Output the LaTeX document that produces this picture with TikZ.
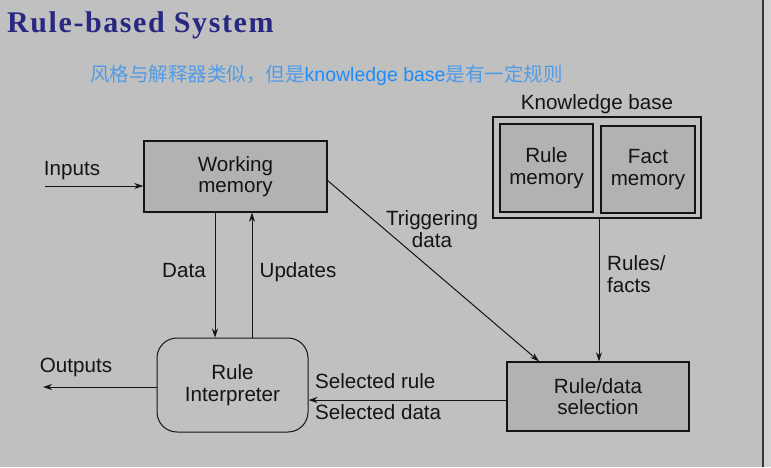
\documentclass[tikz,border=0pt]{standalone}
\usepackage{fontspec}
\setmainfont{Liberation Sans}
\newfontfamily\titlefont[LetterSpace=5.3]{Liberation Serif}
\newfontfamily\cjk{Noto Sans CJK SC}
\usetikzlibrary{arrows.meta}
\definecolor{bg}{RGB}{192,192,192}
\definecolor{bgr}{RGB}{210,210,210}
\definecolor{boxfill}{RGB}{178,178,178}
\definecolor{titlecol}{RGB}{40,40,130}
\definecolor{cjkblue}{RGB}{80,155,230}
\definecolor{latblue}{RGB}{30,140,250}
\definecolor{ink}{RGB}{20,20,20}
\tikzset{
  txt/.style={font=\fontsize{20.6}{21.5}\selectfont, text=ink, align=center, inner sep=0pt},
  box/.style={draw=ink, line width=1.4pt, fill=boxfill, inner sep=0pt, font=\fontsize{20.6}{21.5}\selectfont, text=ink, align=center},
  conn/.style={draw=ink, line width=1pt, -{Stealth[length=9pt,width=6pt]}},
}
\begin{document}
\begin{tikzpicture}[x=1pt,y=-1pt]
\useasboundingbox (0,0) rectangle (771,467);
\fill[bg] (0,0) rectangle (771,467);
\fill[bgr] (763,0) rectangle (771,467);
\draw[line width=1.8pt, ink!85] (763,0) -- (763,467);
% title
\node[anchor=base west, inner sep=0pt, text=titlecol, font=\titlefont\bfseries\fontsize{30}{32}\selectfont] (title) at (7,32) {Rule-based System};
\node[anchor=base west, inner sep=0pt, font=\fontsize{19.5}{22}\selectfont] (sub) at (90,81) {\cjk\color{cjkblue}风格与解释器类似，但是\color{latblue}\rmfamily knowledge base\cjk\color{cjkblue}是有一定规则};
% boxes
\node[box, minimum width=183pt, minimum height=71pt] (wm) at (235.5,176.5) {Working\\memory};
\node[draw=ink, line width=1.2pt, minimum width=208pt, minimum height=101pt, inner sep=0pt] (kb) at (597,167.5) {};
\node[box, minimum width=93pt, minimum height=88pt] (rm) at (546.5,168) {Rule\\memory};
\node[box, minimum width=94pt, minimum height=87pt] (fm) at (648,169.5) {Fact\\memory};
\node[txt, anchor=base] (kbl) at (597,109) {Knowledge base};
\node[box, minimum width=182pt, minimum height=69pt] (rds) at (598,396.5) {Rule/data\\selection};
\node[draw=ink, line width=1pt, rounded corners=20pt, minimum width=151pt, minimum height=94pt, inner sep=0pt, font=\fontsize{20.6}{21.5}\selectfont, text=ink, align=center] (ri) at (232.5,385) {Rule\\Interpreter};
% free ends
\coordinate (inp) at (45,186);
\coordinate (outp) at (43,387);
% connectors
\draw[conn] (inp) -- (wm.west |- inp);
\draw[conn] (ri.west |- outp) -- (outp);
\draw[conn] (wm.south -| 215,0) -- (ri.north -| 215,0);
\draw[conn] (ri.north -| 252,0) -- (wm.south -| 252,0);
\draw[conn] (327,180) -- (rds.north west -| 539,0);
\draw[conn] (kb.south -| 599,0) -- (rds.north -| 599,0);
\draw[conn] (rds.west |- 0,400) -- (ri.east |- 0,400);
% labels
\node[txt, anchor=base] (linp) at (72,175) {Inputs};
\node[txt, anchor=base] (lout) at (76,372) {Outputs};
\node[txt, anchor=base] (ldata) at (184,277) {Data};
\node[txt, anchor=base] (lupd) at (298,277) {Updates};
\node[txt, anchor=base, text depth=0pt] (ltrig) at (432,247) {Triggering\\data};
\node[txt, anchor=base west, align=left] (lrf) at (607,292) {Rules/\\facts};
\node[txt, anchor=base west] (lsr) at (315,388) {Selected rule};
\node[txt, anchor=base west] (lsd) at (315,419) {Selected data};
\end{tikzpicture}
\end{document}
